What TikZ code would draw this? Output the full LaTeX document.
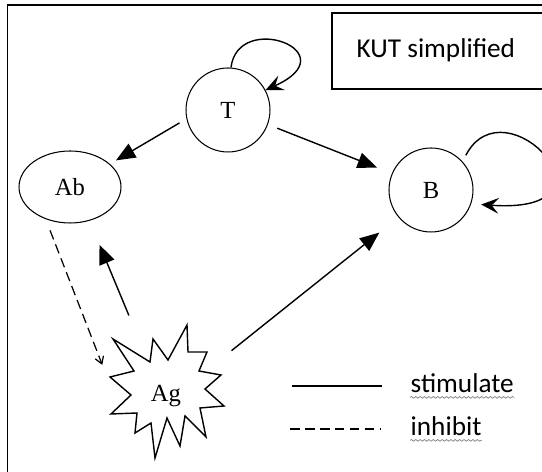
\documentclass[tikz,border=0pt]{standalone}
\usepackage{fontspec}
\setmainfont{Liberation Serif}
\newfontfamily\legendfont{Carlito}
\usetikzlibrary{arrows.meta,shapes.geometric,decorations.pathmorphing}

\tikzset{
    agent/.style={draw, circle, line width=0.6pt, minimum size=1.68cm, inner sep=0pt, font=\fontsize{14}{16}\selectfont},
    antibody/.style={draw, ellipse, line width=0.6pt, minimum width=2.04cm, minimum height=1.44cm, inner sep=0pt, font=\fontsize{14}{16}\selectfont},
    antigen/.style={circle, minimum size=2.2cm, inner sep=0pt, font=\fontsize{14}{16}\selectfont},
    stimarrow/.style={-{Triangle[length=11pt,width=9pt]}, line width=0.8pt},
    loopback/.style={-{Stealth[length=10pt,width=9pt,inset=4pt]}, line width=0.8pt},
    inhibarrow/.style={-{Straight Barb[length=4pt,width=5pt]}, dash pattern=on 5.5pt off 3pt, line width=0.7pt},
    legendtext/.style={font=\legendfont\fontsize{15.5}{18}\selectfont, inner sep=0pt, anchor=base west},
    squiggle/.style={decorate, decoration={snake, amplitude=0.5pt, segment length=2.5pt}, gray, line width=0.4pt}
}

\begin{document}
\begin{tikzpicture}[x=0.02cm, y=-0.02cm, thick]
        \clip (0,0) rectangle (542,472);
        \draw[line width=1.1pt] (7.5,5) rectangle (600,520);
        \draw[line width=0.7pt] (332,13) rectangle (600,89);
        \node (title) [legendtext] at (356,58) {KUT simplified};

        \node (T) [agent] at (228,110) {T};
        \node (B) [agent] at (431,190) {B};
        \node (Ab) [antibody] at (70,187) {Ab};
        \node (Ag) [antigen] at (166,396) {Ag};
        \draw[line width=0.8pt, shift={(Ag.center)}] (-53,-57) -- (-16,-34) -- (-13,-57) -- (2,-36)
            -- (21,-71) -- (22,-44) -- (41,-44) -- (33,-25) -- (55,-21) -- (39,-7)
            -- (58,10) -- (34,12) -- (40,41) -- (19,20) -- (14,50) -- (1,22)
            -- (-11,62) -- (-15,27) -- (-31,37) -- (-29,17) -- (-55,18) -- (-35,-1)
            -- (-56,-19) -- (-32,-25) -- cycle;

        \draw[stimarrow, shorten <=0.16cm, shorten >=0.14cm] (T.192) -- (Ab.30);
        \draw[stimarrow, shorten <=0.2cm, shorten >=0.32cm] (T.-20) -- (B.157);
        \draw[stimarrow, shorten <=0.48cm, shorten >=0.49cm] (Ag.33) -- (B.220);
        \draw[stimarrow, shorten <=0.66cm, shorten >=0.52cm] (Ag.116) -- (Ab.-60);
        \draw[inhibarrow, shorten <=0.24cm, shorten >=0.48cm] (Ab.233) -- (Ag.171);
        \draw[loopback] (T.86) .. controls (238,10) and (350,52) .. (T.28);
        \draw[loopback, shorten <=0.14cm, shorten >=0.2cm] (B.42) .. controls (505,80) and (630,215) .. (B.-19);

        \coordinate (s1) at (292,386);
        \coordinate (s2) at (382,386);
        \coordinate (i1) at (290,429);
        \coordinate (i2) at (380,429);
        \draw[line width=0.7pt] (s1) -- (s2);
        \draw[line width=0.7pt, dash pattern=on 5.5pt off 3pt] (i1) -- (i2);
        \node (stimtext) [legendtext] at (410,393) {stimulate};
        \node (inhibtext) [legendtext] at (410,436) {inhibit};
        \draw[squiggle] ([yshift=-2.5pt]stimtext.base west) -- ([yshift=-2.5pt]stimtext.base east);
        \draw[squiggle] ([yshift=-2.5pt]inhibtext.base west) -- ([yshift=-2.5pt]inhibtext.base east);
\end{tikzpicture}
\end{document}
